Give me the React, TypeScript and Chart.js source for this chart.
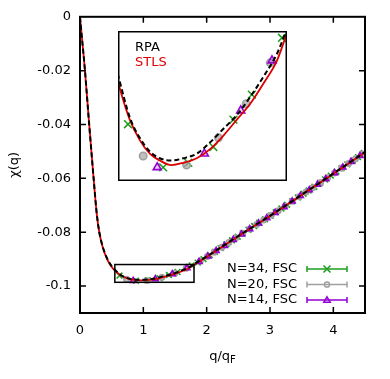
import React, { useEffect, useRef } from 'react';
import { Chart, registerables } from 'chart.js';
Chart.register(...registerables);

// ---- data ----
const curveQ = [0, 0.03, 0.075, 0.145, 0.215, 0.265, 0.305, 0.36, 0.44, 0.52, 0.562, 0.637, 0.711, 0.785, 0.859, 0.946, 1.033, 1.132, 1.231, 1.33, 1.429, 1.528, 1.627, 1.726, 1.8, 2.0, 2.5, 3.0, 3.5, 4.0, 4.5];
const stlsChi = [0, -0.0077, -0.019, -0.04, -0.06, -0.0733, -0.0801, -0.0857, -0.0906, -0.0935, -0.0945, -0.0959, -0.0968, -0.0974, -0.0977, -0.0979, -0.0978, -0.0976, -0.0972, -0.0966, -0.0959, -0.0952, -0.0943, -0.0933, -0.0921, -0.0892, -0.0815, -0.074, -0.0662, -0.0583, -0.0503];
const rpaChi = [0, -0.0077, -0.019, -0.04, -0.06, -0.0733, -0.08, -0.0855, -0.0903, -0.0932, -0.0942, -0.0958, -0.0967, -0.0973, -0.0976, -0.0977, -0.0976, -0.0974, -0.0969, -0.0963, -0.0957, -0.0949, -0.094, -0.093, -0.0919, -0.089, -0.0814, -0.0739, -0.0661, -0.0582, -0.0502];

const n34Q = [0.624, 0.884, 1.07, 1.255, 1.404, 1.54, 1.763, 1.86, 1.95, 2.05, 2.13, 2.22, 2.31, 2.4, 2.49, 2.57, 2.66, 2.75, 2.83, 2.92, 3.01, 3.09, 3.18, 3.27, 3.35, 3.44, 3.53, 3.61, 3.7, 3.79, 3.87, 3.96, 4.05, 4.13, 4.22, 4.31, 4.39, 4.48];
const n34Chi = [-0.0961, -0.098, -0.0978, -0.0971, -0.0959, -0.0948, -0.0923, -0.0913, -0.09, -0.0885, -0.0873, -0.0859, -0.0845, -0.083, -0.0817, -0.0804, -0.0791, -0.0777, -0.0765, -0.0752, -0.0739, -0.0726, -0.0712, -0.0698, -0.0685, -0.0671, -0.0657, -0.0645, -0.0631, -0.0617, -0.0604, -0.059, -0.0575, -0.0562, -0.0548, -0.0534, -0.0521, -0.0506];

const n20Q = [0.736, 1.057, 1.293, 1.498, 1.676, 1.9, 2.01, 2.12, 2.24, 2.35, 2.46, 2.57, 2.68, 2.79, 2.9, 3.02, 3.13, 3.24, 3.35, 3.46, 3.57, 3.68, 3.8, 3.91, 4.02, 4.13, 4.24, 4.35, 4.46];
const n20Chi = [-0.0975, -0.0979, -0.0967, -0.0952, -0.0934, -0.0907, -0.089, -0.0874, -0.0856, -0.0838, -0.0821, -0.0804, -0.0788, -0.0771, -0.0755, -0.0737, -0.072, -0.0703, -0.0685, -0.0668, -0.0651, -0.0634, -0.0615, -0.0598, -0.058, -0.0562, -0.0545, -0.0527, -0.051];

const n14Q = [0.84, 1.189, 1.458, 1.689, 1.88, 2.02, 2.15, 2.28, 2.42, 2.55, 2.68, 2.82, 2.95, 3.08, 3.22, 3.35, 3.48, 3.62, 3.75, 3.88, 4.02, 4.15, 4.28, 4.42];
const n14Chi = [-0.098, -0.0974, -0.0955, -0.0933, -0.091, -0.0889, -0.0869, -0.085, -0.0828, -0.0808, -0.0788, -0.0767, -0.0747, -0.0728, -0.0706, -0.0685, -0.0665, -0.0643, -0.0623, -0.0602, -0.058, -0.0559, -0.0538, -0.0516];

const xTicks = [0, 1, 2, 3, 4];
const xTickLabels = ['0', '1', '2', '3', '4'];
const yTicks = [0, -0.02, -0.04, -0.06, -0.08, -0.1];
const yTickLabels = ['0', '-0.02', '-0.04', '-0.06', '-0.08', '-0.1'];
const xRange = [0, 4.5];
const yRange = [-0.11, 0];
const insetXRange = [0.55, 1.8];
const insetYRange = [-0.0986, -0.092];
const legendLabels = ['N=34, FSC', 'N=20, FSC', 'N=14, FSC'];
const insetLabels = ['RPA', 'STLS'];

// ---- styles ----
const FONT = "'DejaVu Sans', sans-serif";
const GREEN = '#1f9e1f';
const GRAY = '#a0a0a0';
const PURPLE = '#9400d3';
const RED = '#dd0000';

const pts = (qs: number[], cs: number[]) => qs.map((q, i) => ({ x: q, y: cs[i] }));

function makeDatasets(r: number, bw: number) {
  return [
    { label: 'RPA', data: pts(curveQ, rpaChi), showLine: true, borderColor: '#000', borderWidth: 2, borderDash: [5, 3], pointRadius: 0, cubicInterpolationMode: 'monotone', order: 0 },
    { label: 'STLS', data: pts(curveQ, stlsChi), showLine: true, borderColor: RED, borderWidth: 1.8, pointRadius: 0, cubicInterpolationMode: 'monotone', order: 1 },
    { label: legendLabels[0], data: pts(n34Q, n34Chi), showLine: false, pointStyle: 'crossRot', pointRadius: r * 1.2, borderColor: GREEN, backgroundColor: GREEN, pointBorderWidth: bw, order: 4 },
    { label: legendLabels[1], data: pts(n20Q, n20Chi), showLine: false, pointStyle: 'circle', pointRadius: r * 0.8, borderColor: GRAY, backgroundColor: 'rgba(165,165,165,0.7)', pointBorderWidth: bw, order: 3 },
    { label: legendLabels[2], data: pts(n14Q, n14Chi), showLine: false, pointStyle: 'triangle', pointRadius: r, borderColor: PURPLE, backgroundColor: 'rgba(148,0,211,0.18)', pointBorderWidth: bw, order: 2 },
  ];
}

function drawMarker(ctx: CanvasRenderingContext2D, kind: string, x: number, y: number, r: number, color: string) {
  ctx.save();
  ctx.strokeStyle = color;
  ctx.lineWidth = 1.5;
  ctx.beginPath();
  if (kind === 'x') {
    ctx.moveTo(x - r, y - r); ctx.lineTo(x + r, y + r);
    ctx.moveTo(x - r, y + r); ctx.lineTo(x + r, y - r);
  } else if (kind === 'o') {
    ctx.arc(x, y, r, 0, Math.PI * 2);
  } else {
    ctx.moveTo(x, y - r); ctx.lineTo(x + r, y + r * 0.7); ctx.lineTo(x - r, y + r * 0.7); ctx.closePath();
  }
  ctx.stroke();
  ctx.restore();
}

const mainPlugin = {
  id: 'mainDecor',
  afterDraw(chart: any) {
    const { ctx, chartArea: a, scales } = chart;
    const xs = scales.x, ys = scales.y;
    ctx.save();
    // inset indicator box
    ctx.strokeStyle = '#000';
    ctx.lineWidth = 1.5;
    const bx0 = xs.getPixelForValue(insetXRange[0]);
    const bx1 = xs.getPixelForValue(insetXRange[1]);
    const by0 = ys.getPixelForValue(insetYRange[1]);
    const by1 = ys.getPixelForValue(insetYRange[0]);
    ctx.strokeRect(bx0, by0, bx1 - bx0, by1 - by0);
    // frame
    ctx.lineWidth = 2;
    ctx.strokeRect(a.left, a.top, a.right - a.left, a.bottom - a.top);
    // inward ticks on all four sides
    ctx.lineWidth = 1.5;
    ctx.beginPath();
    xTicks.forEach((v) => {
      const px = xs.getPixelForValue(v);
      if (px <= a.left + 1 || px >= a.right - 1) return;
      ctx.moveTo(px, a.bottom); ctx.lineTo(px, a.bottom - 6);
      ctx.moveTo(px, a.top); ctx.lineTo(px, a.top + 6);
    });
    yTicks.forEach((v) => {
      const py = ys.getPixelForValue(v);
      if (py <= a.top + 1 || py >= a.bottom - 1) return;
      ctx.moveTo(a.left, py); ctx.lineTo(a.left + 6, py);
      ctx.moveTo(a.right, py); ctx.lineTo(a.right - 6, py);
    });
    ctx.stroke();
    // x axis title q/q_F
    ctx.fillStyle = '#000';
    ctx.textBaseline = 'alphabetic';
    ctx.textAlign = 'left';
    ctx.font = `13px ${FONT}`;
    const main = 'q/q';
    const w1 = ctx.measureText(main).width;
    ctx.font = `10px ${FONT}`;
    const w2 = ctx.measureText('F').width;
    const cx = (a.left + a.right) / 2;
    const sx = cx - (w1 + w2) / 2;
    ctx.font = `13px ${FONT}`;
    ctx.fillText(main, sx, 360);
    ctx.font = `10px ${FONT}`;
    ctx.fillText('F', sx + w1, 363);
    // legend
    const colors = [GREEN, GRAY, PURPLE];
    const kinds = ['x', 'o', 't'];
    const rows = [269, 284.5, 300];
    const radii = [3.5, 2.6, 3.2];
    ctx.font = `13px ${FONT}`;
    ctx.textAlign = 'right';
    ctx.textBaseline = 'middle';
    legendLabels.forEach((lab, i) => {
      const y = rows[i];
      ctx.fillStyle = '#000';
      ctx.fillText(lab, 297, y);
      ctx.strokeStyle = colors[i];
      ctx.lineWidth = 1.5;
      ctx.beginPath();
      ctx.moveTo(307, y); ctx.lineTo(347, y);
      ctx.moveTo(307, y - 3); ctx.lineTo(307, y + 3);
      ctx.moveTo(347, y - 3); ctx.lineTo(347, y + 3);
      ctx.stroke();
      drawMarker(ctx, kinds[i], 327, y, radii[i], colors[i]);
    });
    ctx.restore();
  },
};

const insetPlugin = {
  id: 'insetDecor',
  beforeDraw(chart: any) {
    const { ctx, width, height } = chart;
    ctx.save();
    ctx.fillStyle = '#fff';
    ctx.fillRect(0, 0, width, height);
    ctx.restore();
  },
  afterDraw(chart: any) {
    const { ctx, width, height } = chart;
    ctx.save();
    ctx.strokeStyle = '#000';
    ctx.lineWidth = 1.5;
    ctx.strokeRect(0.75, 0.75, width - 1.5, height - 1.5);
    ctx.font = `13px ${FONT}`;
    ctx.textAlign = 'left';
    ctx.textBaseline = 'middle';
    ctx.fillStyle = '#000';
    ctx.fillText(insetLabels[0], 17, 17);
    ctx.fillStyle = RED;
    ctx.fillText(insetLabels[1], 17, 32);
    ctx.restore();
  },
};

export default function App() {
  const mainRef = useRef<HTMLCanvasElement>(null);
  const insetRef = useRef<HTMLCanvasElement>(null);

  useEffect(() => {
    Chart.defaults.font.family = FONT;
    Chart.defaults.font.size = 13;
    Chart.defaults.color = '#000';
    const main = new Chart(mainRef.current as HTMLCanvasElement, {
      type: 'scatter',
      data: { datasets: makeDatasets(3.4, 1.6) as any },
      options: {
        responsive: false,
        animation: false,
        events: [],
        layout: { autoPadding: false, padding: { left: 0, top: 16, right: 25, bottom: 0 } },
        plugins: { legend: { display: false }, tooltip: { enabled: false } },
        scales: {
          x: {
            type: 'linear',
            min: xRange[0],
            max: xRange[1],
            grid: { display: false, drawTicks: false },
            border: { display: false },
            afterBuildTicks: (s: any) => { s.ticks = xTicks.map((v) => ({ value: v })); },
            afterFit: (s: any) => { s.height = 66; },
            ticks: {
              padding: 10,
              maxRotation: 0,
              autoSkip: false,
              color: '#000',
              font: { size: 13, family: FONT },
              callback: (v: any) => xTickLabels[xTicks.indexOf(Number(v))],
            },
          },
          y: {
            type: 'linear',
            min: yRange[0],
            max: yRange[1],
            grid: { display: false, drawTicks: false },
            border: { display: false },
            afterBuildTicks: (s: any) => { s.ticks = yTicks.map((v) => ({ value: v })); },
            afterFit: (s: any) => { s.width = 80; },
            ticks: {
              padding: 9,
              autoSkip: false,
              color: '#000',
              font: { size: 13, family: FONT },
              callback: (v: any) => yTickLabels[yTicks.findIndex((t) => Math.abs(t - Number(v)) < 1e-9)],
            },
            title: { display: true, text: 'χ(q)', color: '#000', font: { size: 13, family: FONT }, padding: { top: 7, bottom: 0 } },
          },
        },
      } as any,
      plugins: [mainPlugin],
    });

    const inset = new Chart(insetRef.current as HTMLCanvasElement, {
      type: 'scatter',
      data: { datasets: makeDatasets(4.6, 1.6) as any },
      options: {
        responsive: false,
        animation: false,
        events: [],
        layout: { autoPadding: false, padding: 0 },
        plugins: { legend: { display: false }, tooltip: { enabled: false } },
        scales: {
          x: { type: 'linear', min: insetXRange[0], max: insetXRange[1], display: false },
          y: { type: 'linear', min: insetYRange[0], max: insetYRange[1], display: false },
        },
      } as any,
      plugins: [insetPlugin],
    });

    return () => {
      main.destroy();
      inset.destroy();
    };
  }, []);

  return (
    <div style={{ position: 'absolute', left: 0, top: 0, width: 390, height: 379, background: '#fff' }}>
      <canvas ref={mainRef} width={390} height={379} style={{ position: 'absolute', left: 0, top: 0 }} />
      <canvas ref={insetRef} width={169} height={150} style={{ position: 'absolute', left: 118, top: 31 }} />
    </div>
  );
}
